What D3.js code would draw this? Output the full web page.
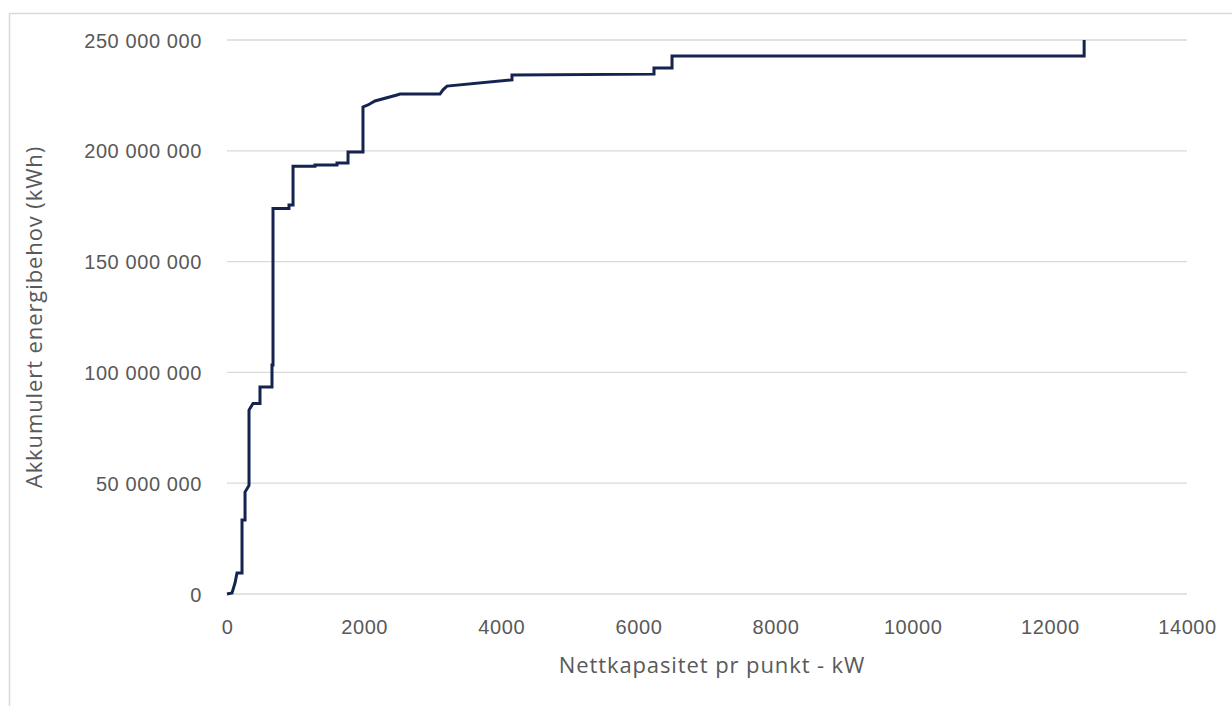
<!DOCTYPE html>
<html>
<head>
<meta charset="utf-8">
<script src="https://cdn.jsdelivr.net/npm/d3@7/dist/d3.min.js"></script>
<style>
  html, body { margin: 0; padding: 0; background: #fff; }
  svg { display: block; font-family: "Open Sans", "Noto Sans", Arial, sans-serif; }
</style>
</head>
<body>
<svg id="chart" width="1232" height="706"></svg>
<script>
// Cumulative energy demand against grid capacity per connection point
const capacityKW = [0, 73, 117, 146, 219, 219, 263, 263, 321, 321, 379, 481, 481, 656, 656, 671, 671,
  904, 904, 963, 963, 1283, 1283, 1604, 1604, 1765, 1765, 1983, 1983, 2056, 2158, 2479, 2523,
  3106, 3150, 3208, 4156, 4156, 6227, 6227, 6490, 6490, 12500, 12500];
const cumulativeKWh = [0, 0.45e6, 5e6, 9.5e6, 9.5e6, 33.4e6, 33.4e6, 46e6, 49e6, 83e6, 86e6, 86e6, 93.4e6, 93.4e6,
  103.3e6, 103.3e6, 174e6, 174e6, 175.5e6, 175.5e6, 193e6, 193e6, 193.6e6, 193.6e6, 194.5e6, 194.5e6,
  199.5e6, 199.5e6, 219.8e6, 220.7e6, 222.5e6, 225.2e6, 225.6e6, 225.6e6, 227.5e6, 229.2e6, 232e6,
  234.2e6, 234.6e6, 237.4e6, 237.4e6, 242.8e6, 242.8e6, 250e6];

const xTicks = [0, 2000, 4000, 6000, 8000, 10000, 12000, 14000];
const yTicks = [0, 50e6, 100e6, 150e6, 200e6, 250e6];

const xTitle = "Nettkapasitet pr punkt - kW";
const yTitle = "Akkumulert energibehov (kWh)";

const svg = d3.select("#chart");
const margin = { left: 227, right: 1232 - 1187, top: 40, bottom: 706 - 594 };
const W = 1232, H = 706;

const x = d3.scaleLinear().domain([0, 14000]).range([margin.left, W - margin.right]);
const y = d3.scaleLinear().domain([0, 250e6]).range([H - margin.bottom, margin.top]);

// chart area frame
svg.append("path")
  .attr("d", `M9.5,706 V13.5 H1232`)
  .attr("fill", "none")
  .attr("stroke", "#d9d9d9")
  .attr("stroke-width", 1.5);

// horizontal gridlines
svg.append("g")
  .selectAll("line")
  .data(yTicks)
  .join("line")
  .attr("x1", x(0)).attr("x2", x(14000))
  .attr("y1", d => y(d)).attr("y2", d => y(d))
  .attr("stroke", "#d9d9d9")
  .attr("stroke-width", 1.3);

const fmtY = d => d3.format(",")(d).replace(/,/g, " ");

// y axis labels
const yAxis = d3.axisLeft(y).tickValues(yTicks).tickFormat(fmtY).tickSize(0).tickPadding(25);
const gy = svg.append("g").attr("transform", `translate(${x(0)},0)`).call(yAxis);
gy.select(".domain").remove();
gy.selectAll("text")
  .attr("fill", "#595959")
  .style("font-size", "20px")
  .style("letter-spacing", "0.6px")
  .attr("dy", "0.35em");

// x axis labels
const xAxis = d3.axisBottom(x).tickValues(xTicks).tickFormat(d3.format("d")).tickSize(0).tickPadding(26);
const gx = svg.append("g").attr("transform", `translate(0,${y(0)})`).call(xAxis);
gx.select(".domain").remove();
gx.selectAll("text")
  .attr("fill", "#595959")
  .style("font-size", "20px")
  .style("letter-spacing", "0.6px");

// axis titles
svg.append("text")
  .attr("x", (x(0) + x(14000)) / 2 + 5)
  .attr("y", 673)
  .attr("text-anchor", "middle")
  .attr("fill", "#595959")
  .style("font-size", "22px")
  .style("letter-spacing", "0.9px")
  .text(xTitle);

svg.append("text")
  .attr("transform", `translate(${42},${(y(0) + y(250e6)) / 2}) rotate(-90)`)
  .attr("text-anchor", "middle")
  .attr("fill", "#595959")
  .style("font-size", "22px")
  .style("letter-spacing", "0.9px")
  .text(yTitle);

// cumulative curve
const pts = capacityKW.map((c, i) => [c, cumulativeKWh[i]]);
svg.append("path")
  .datum(pts)
  .attr("fill", "none")
  .attr("stroke", "#14234f")
  .attr("stroke-width", 3)
  .attr("stroke-linejoin", "miter")
  .attr("d", d3.line().x(d => x(d[0])).y(d => y(d[1])));
</script>
</body>
</html>
